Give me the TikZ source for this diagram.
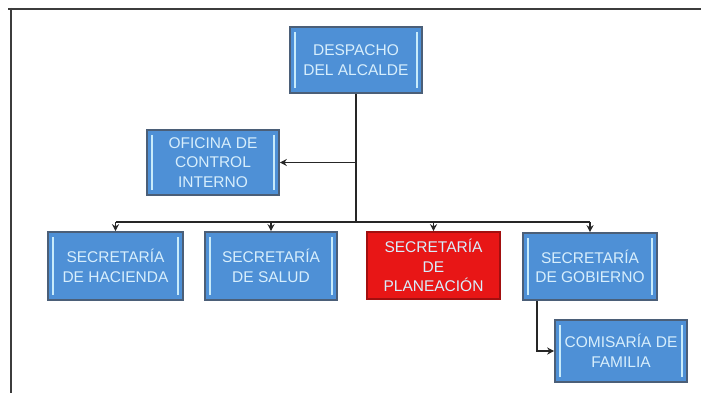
\documentclass[tikz,border=0pt]{standalone}
\usepackage{fontspec}
\setmainfont{Liberation Sans}
\usetikzlibrary{arrows.meta,calc}
\definecolor{boxblue}{RGB}{78,144,214}
\definecolor{boxred}{RGB}{232,22,22}
\definecolor{boxedge}{RGB}{75,95,120}
\definecolor{barcol}{RGB}{200,235,250}
\definecolor{txtcol}{RGB}{215,238,252}
\definecolor{framecol}{RGB}{60,60,60}
\tikzset{
  orgbox/.style={draw=boxedge, line width=1.6pt, fill=boxblue, text=txtcol,
    align=center, inner sep=0pt, font=\fontsize{15.5}{19.5}\selectfont,
    path picture={
      \draw[barcol, line width=1.6pt]
        ([xshift=5pt,yshift=-5pt]path picture bounding box.north west) --
        ([xshift=5pt,yshift=5pt]path picture bounding box.south west);
      \draw[barcol, line width=1.6pt]
        ([xshift=-5pt,yshift=-5pt]path picture bounding box.north east) --
        ([xshift=-5pt,yshift=5pt]path picture bounding box.south east);
    }},
  redbox/.style={orgbox, fill=boxred, draw=boxred!70!black,
    path picture={}},
  conn/.style={line width=1.4pt, draw=black!85},
  arr/.style={conn, -{Stealth[length=7pt,width=7pt]}},
  frameline/.style={line width=2pt, draw=framecol}
}
\begin{document}
\begin{tikzpicture}[x=1pt,y=-1pt]
\useasboundingbox (0,0) rectangle (701,393);
\draw[frameline] (8,9) coordinate (f1) -- (701,9) coordinate (f2);
\draw[frameline] (11,8) coordinate (f3) -- (11,393) coordinate (f4);

\node[orgbox, minimum width=132pt, minimum height=66pt] (desp) at (356,60) {DESPACHO\\DEL ALCALDE};
\node[orgbox, minimum width=132pt, minimum height=65pt] (ofic) at (213,162.5) {OFICINA DE\\CONTROL\\INTERNO};
\node[orgbox, minimum width=135pt, minimum height=68pt] (hac) at (115.5,266) {SECRETARÍA\\DE HACIENDA};
\node[orgbox, minimum width=132pt, minimum height=68pt] (sal) at (271,266) {SECRETARÍA\\DE SALUD};
\node[redbox, minimum width=133pt, minimum height=67pt] (plan) at (433.5,265.5) {SECRETARÍA\\DE\\PLANEACIÓN};
\node[orgbox, minimum width=134pt, minimum height=67pt] (gob) at (590,266.5) {SECRETARÍA\\DE GOBIERNO};
\node[orgbox, minimum width=132pt, minimum height=62pt] (com) at (621,351) {COMISARÍA DE\\FAMILIA};

\coordinate (bus) at (356,222);
\coordinate (busL) at (115.5,222);
\coordinate (busR) at (590,222);
\coordinate (ofj) at (356,162.5);
\coordinate (gobj) at (537,300);

\draw[conn] (desp.south) -- (bus);
\draw[arr] (ofj) -- (ofic.east);
\draw[conn] (busL) -- (busR);
\draw[arr] (busL) -- (hac.north);
\draw[arr] (sal.north |- bus) -- (sal.north);
\draw[arr] (plan.north |- bus) -- (plan.north);
\draw[arr] (busR) -- (gob.north);
\draw[arr] (gobj |- gob.south) |- (com.west);
\end{tikzpicture}
\end{document}
